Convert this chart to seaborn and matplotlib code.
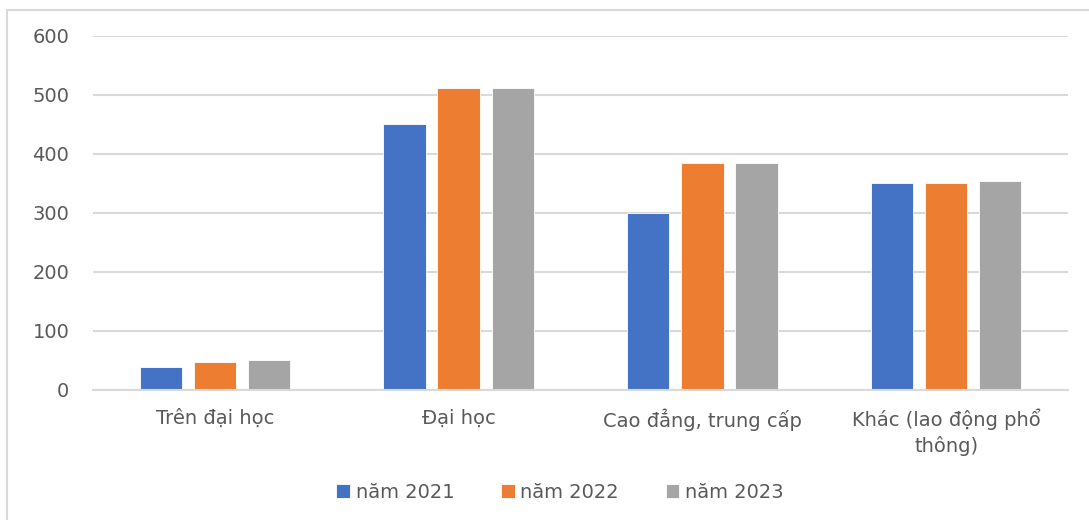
import seaborn as sns
import pandas as pd
from matplotlib import pyplot as plt
from matplotlib.lines import Line2D


categories = ["Trên đại học", "Đại học", "Cao đẳng, trung cấp", "Khác (lao động phổ\nthông)"]
years = ["năm 2021", "năm 2022", "năm 2023"]
values_2021 = [38, 450, 300, 350]
values_2022 = [46, 511, 385, 350]
values_2023 = [50, 511, 385, 354]
colors = ["#4472C4", "#ED7D31", "#A5A5A5"]

rows = []
for year, vals in zip(years, [values_2021, values_2022, values_2023]):
    for cat, v in zip(categories, vals):
        rows.append({"category": cat, "year": year, "value": v})
df = pd.DataFrame(rows)

sns.set_style("white")
plt.rcParams["font.family"] = ["DejaVu Sans"]

fig = plt.figure(figsize=(10.89, 5.2), dpi=100)
ax = fig.add_axes([93 / 1089, 1 - 389.5 / 520, (1068 - 93) / 1089, (389.5 - 36) / 520])

sns.barplot(data=df, x="category", y="value", hue="year", palette=colors,
            width=0.667, gap=0.22, ax=ax, edgecolor="white", linewidth=0.6,
            saturation=1)

ax.set_ylim(0, 600)
ax.set_yticks(range(0, 601, 100))
ax.yaxis.grid(True, color="#d9d9d9", linewidth=1.5)
ax.set_axisbelow(True)
for s in ["left", "right", "top"]:
    ax.spines[s].set_visible(False)
ax.spines["bottom"].set_color("#d9d9d9")
ax.spines["bottom"].set_linewidth(1.5)
ax.tick_params(axis="y", length=0, pad=17, labelsize=14, labelcolor="#595959")
ax.tick_params(axis="x", length=0, pad=14, labelsize=14, labelcolor="#595959")
for lbl in ax.get_xticklabels():
    lbl.set_linespacing(1.35)
ax.set_xlabel("")
ax.set_ylabel("")

ax.legend(loc="center", bbox_to_anchor=(560 / 1089, 1 - 492 / 520),
          bbox_transform=fig.transFigure, ncol=3, frameon=False,
          fontsize=14, labelcolor="#595959", handlelength=0.7, handleheight=0.7,
          handletextpad=0.3, columnspacing=2.4)

# chart frame
fig.add_artist(Line2D([7 / 1089, 7 / 1089], [0, 1 - 10 / 520], color="#d9d9d9", linewidth=1.5))
fig.add_artist(Line2D([7 / 1089, 1], [1 - 10 / 520, 1 - 10 / 520], color="#d9d9d9", linewidth=1.5))

fig.savefig("out.png", dpi=100)
